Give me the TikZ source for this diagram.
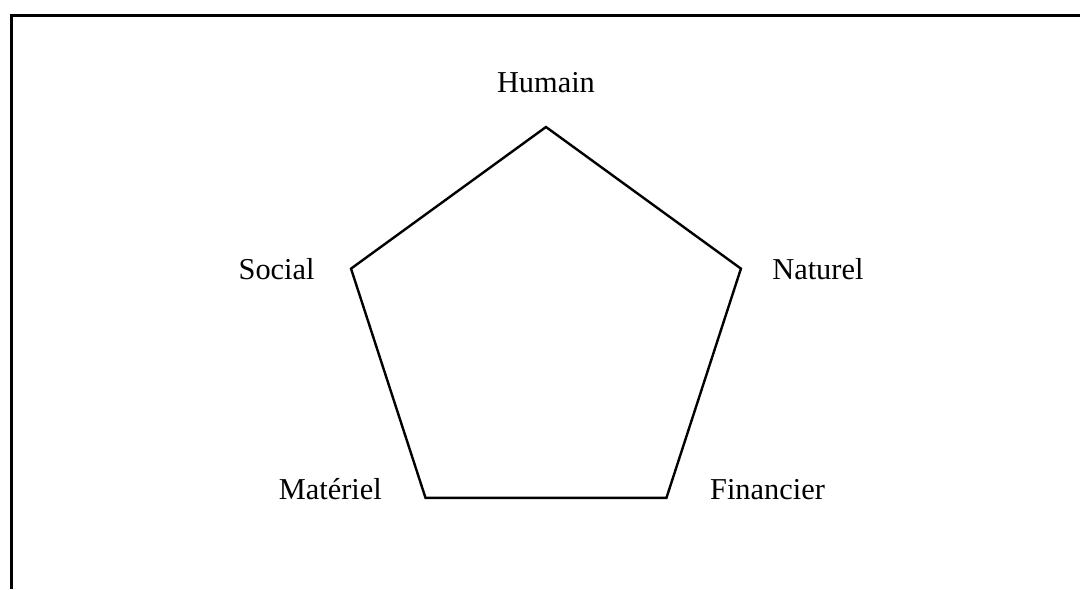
\documentclass[tikz,border=0pt]{standalone}
\usepackage{fontspec}
\setmainfont{Liberation Serif}
\usepackage{tikz}
\usetikzlibrary{positioning,calc}

\begin{document}
\begin{tikzpicture}[lab/.style={inner sep=0pt, font=\fontsize{12}{14}\selectfont}]
	%\draw[help lines, thick] (0,0) grid (15,8);
	\useasboundingbox (0,0) rectangle (15,8.181);
	\draw[line width=1pt] (0.16,0) -- (0.16,7.966) -- (15,7.966);
	% pentagon corners
	\coordinate (H) at ($(7.583,3.570)+(90:2.847)$);
	\coordinate (S) at ($(7.583,3.570)+(162:2.847)$);
	\coordinate (M) at ($(7.583,3.570)+(234:2.847)$);
	\coordinate (F) at ($(7.583,3.570)+(306:2.847)$);
	\coordinate (N) at ($(7.583,3.570)+(18:2.847)$);
	\draw[line width=0.95pt, line join=miter] (H)--(N)--(F)--(M)--(S)--cycle;
	\node[lab, above=0.47cm of H] (hum) {Humain};
	\node[lab, left=0.5cm of S] (soc) {Social};
	\node[lab, right=0.43cm of N] (nat) {Naturel};
	\node[lab, base left=0.6cm of M, yshift=-0.02cm] (mat) {Matériel};
	\node[lab, base right=0.6cm of F, yshift=-0.02cm] (fin) {Financier};
\end{tikzpicture}
\end{document}
